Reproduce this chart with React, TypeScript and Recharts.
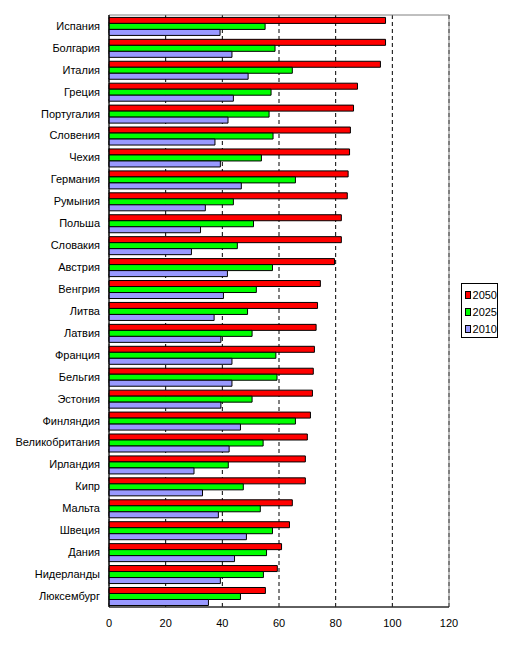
import React from 'react';
import { BarChart, Bar, XAxis, YAxis, CartesianGrid, ReferenceArea } from 'recharts';

const countries = [
  'Испания', 'Болгария', 'Италия', 'Греция', 'Португалия', 'Словения', 'Чехия',
  'Германия', 'Румыния', 'Польша', 'Словакия', 'Австрия', 'Венгрия', 'Литва',
  'Латвия', 'Франция', 'Бельгия', 'Эстония', 'Финляндия', 'Великобритания',
  'Ирландия', 'Кипр', 'Мальта', 'Швеция', 'Дания', 'Нидерланды', 'Люксембург',
];

const values2050 = [
  97.6, 97.6, 95.8, 87.7, 86.3, 85.2, 84.9, 84.4, 84.1, 82.0, 82.0, 79.6, 74.6, 73.6,
  73.1, 72.5, 72.1, 71.8, 71.1, 70.0, 69.3, 69.3, 64.7, 63.7, 60.9, 59.4, 55.2,
];
const values2025 = [
  55.1, 58.6, 64.7, 57.2, 56.5, 57.9, 53.8, 65.8, 43.9, 51.0, 45.3, 57.7, 52.0, 48.9,
  50.5, 58.9, 59.3, 50.5, 65.8, 54.4, 42.1, 47.4, 53.4, 57.7, 55.6, 54.5, 46.4,
];
const values2010 = [
  39.2, 43.4, 49.1, 43.9, 42.0, 37.4, 39.3, 46.7, 34.0, 32.3, 29.1, 41.8, 40.4, 37.1,
  39.5, 43.4, 43.4, 39.5, 46.4, 42.4, 30.0, 33.0, 38.6, 48.5, 44.3, 39.3, 35.1,
];

const xTicks = [0, 20, 40, 60, 80, 100, 120];

const series = [
  { key: 'y2050', name: '2050', color: '#FF0000' },
  { key: 'y2025', name: '2025', color: '#00FF00' },
  { key: 'y2010', name: '2010', color: '#9999FF' },
];

const data = countries.map((name, i) => ({
  name,
  y2050: values2050[i],
  y2025: values2025[i],
  y2010: values2010[i],
}));

const font = 'Arial, "Liberation Sans", sans-serif';

// legend drawn by hand so it doesn't steal space from the plot
const LegendBox = () => (
  <div
    style={{
      position: 'absolute',
      left: 461,
      top: 283,
      width: 37,
      height: 55,
      border: '1px solid #000',
      background: '#fff',
      padding: '2px 0 0 3px',
      boxSizing: 'border-box',
      fontFamily: font,
      fontSize: 11,
      color: '#000',
    }}
  >
    {series.map((s) => (
      <div key={s.key} style={{ display: 'flex', alignItems: 'center', height: 17 }}>
        <span
          style={{
            display: 'inline-block',
            width: 6,
            height: 6,
            background: s.color,
            border: '1px solid #000',
            marginRight: 2,
          }}
        />
        {s.name}
      </div>
    ))}
  </div>
);

export default function App() {
  return (
    <div style={{ position: 'absolute', left: 0, top: 0, width: 513, height: 649, background: '#fff' }}>
      <BarChart
        width={513}
        height={649}
        data={data}
        layout="vertical"
        margin={{ top: 15, right: 64, left: 0, bottom: 0 }}
        barCategoryGap="11%"
        barGap={0}
      >
        <CartesianGrid horizontal={false} stroke="#000" strokeDasharray="4 3" />
        <ReferenceArea x1={0} x2={120} fill="none" stroke="#808080" strokeWidth={1} ifOverflow="visible" />
        <XAxis
          type="number"
          domain={[0, 120]}
          ticks={xTicks}
          height={42}
          axisLine={{ stroke: '#000' }}
          tickLine={false}
          tick={{ fill: '#000', fontSize: 11, fontFamily: font }}
          dy={4}
        />
        <YAxis
          type="category"
          dataKey="name"
          width={109}
          axisLine={{ stroke: '#000' }}
          tickLine={false}
          interval={0}
          tick={{ fill: '#000', fontSize: 11, fontFamily: font }}
          dx={-1}
        />
        {series.map((s) => (
          <Bar
            key={s.key}
            dataKey={s.key}
            name={s.name}
            fill={s.color}
            stroke="#000"
            strokeWidth={1}
            isAnimationActive={false}
          />
        ))}
      </BarChart>
      <LegendBox />
    </div>
  );
}
